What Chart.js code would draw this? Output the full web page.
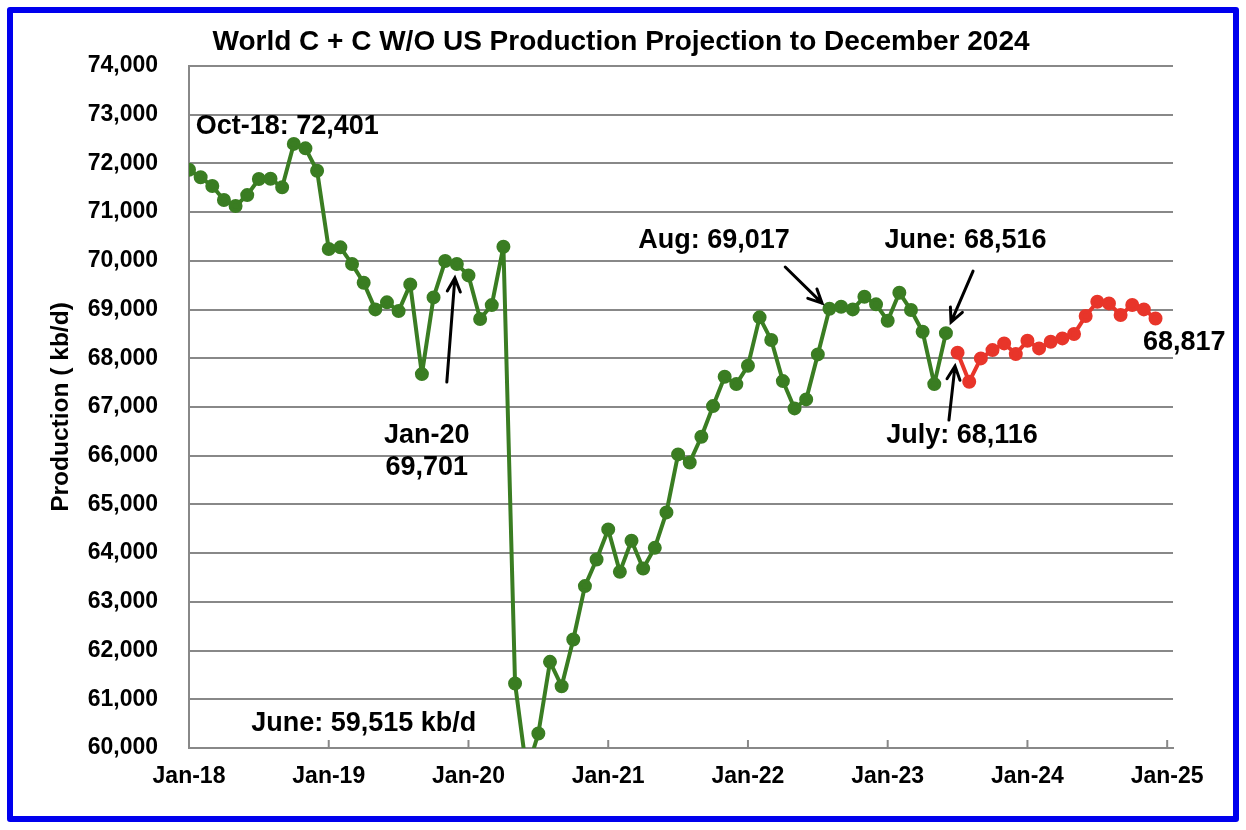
<!DOCTYPE html>
<html lang="en">
<head>
  <meta charset="UTF-8" />
  <title>World C + C W/O US Production Projection to December 2024</title>
  <script src="https://cdn.jsdelivr.net/npm/chart.js"></script>
  <style>
    html, body {
      margin: 0;
      padding: 0;
      background: #fff;
      overflow: hidden;
    }
    #wrap {
      width: 1246px;
      height: 830px;
    }
  </style>
</head>
<body>

<div id="wrap">
  <canvas id="myChart" width="1246" height="830"></canvas>
</div>

<script>
  // months counted from Jan-18 (0) ; ticks every January
  const yearTicks = [0, 12, 24, 36, 48, 60, 72, 84];
  const yearLabels = ['Jan-18', 'Jan-19', 'Jan-20', 'Jan-21', 'Jan-22', 'Jan-23', 'Jan-24', 'Jan-25'];

  // Jan-18 .. Jun-23 (kb/d)
  const actual = [
    71870, 71715, 71536, 71248, 71125, 71350, 71680, 71686, 71509, 72401, 72310, 71850,
    70242, 70277, 69934, 69550, 69004, 69148, 68969, 69517, 67675, 69250, 69996, 69934,
    69701, 68805, 69092, 70290, 61325, 59515, 60298, 61768, 61269, 62228, 63323, 63870,
    64487, 63616, 64253, 63686, 64109, 64836, 66027, 65862, 66389, 67018, 67620, 67470,
    67846, 68840, 68374, 67532, 66971, 67156, 68080, 69017, 69058, 69004, 69264, 69107,
    68771, 69346, 68990, 68544, 67470, 68516
  ];

  // Jul-23 .. Dec-24 projection (kb/d)
  const projected = [
    68116, 67519, 67998, 68168, 68306, 68086,
    68360, 68203, 68339, 68408, 68497, 68867, 69161, 69127, 68888, 69093, 69004, 68817
  ];

  const yMin = 60000, yMax = 74000, yStep = 1000;

  // call-outs, placed in data units
  const notes = [
    { text: 'Oct-18: 72,401',    x: 0.58,  y: 72747, align: 'left' },
    { text: 'Jan-20',            x: 20.42, y: 66423 },
    { text: '69,701',            x: 20.42, y: 65766 },
    { text: 'June: 59,515 kb/d', x: 15.0,  y: 60510 },
    { text: 'Aug: 69,017',       x: 45.08, y: 70407 },
    { text: 'June: 68,516',      x: 66.68, y: 70427 },
    { text: 'July: 68,116',      x: 66.38, y: 66423 },
    { text: '68,817',            x: 85.46, y: 68333 }
  ];
  const arrows = [
    { from: [22.14, 67511], to: [22.83, 69647] },
    { from: [51.2, 69873],  to: [54.36, 69133] },
    { from: [67.33, 69791], to: [65.44, 68743] },
    { from: [65.26, 66731], to: [65.78, 67840] }
  ];

  const FONT = 'Arial, "Liberation Sans", sans-serif';

  const frameAndNotes = {
    id: 'frameAndNotes',
    beforeDraw(chart) {
      const c = chart.ctx;
      c.save();
      c.fillStyle = '#fff';
      c.fillRect(0, 0, chart.width, chart.height);
      c.restore();
    },
    afterDraw(chart) {
      const c = chart.ctx;
      const xs = chart.scales.x, ys = chart.scales.y;
      const area = chart.chartArea;
      c.save();

      // inward tick marks on the date axis
      c.strokeStyle = '#888';
      c.lineWidth = 2;
      yearTicks.forEach(t => {
        const px = xs.getPixelForValue(t);
        c.beginPath();
        c.moveTo(px, area.bottom);
        c.lineTo(px, area.bottom - 8);
        c.stroke();
      });

      // title
      c.fillStyle = '#000';
      c.font = 'bold 28px ' + FONT;
      c.textAlign = 'center';
      c.textBaseline = 'middle';
      c.fillText('World C + C W/O US Production Projection to December 2024', 621, 42);

      // labels
      c.font = 'bold 27px ' + FONT;
      notes.forEach(n => {
        c.textAlign = n.align || 'center';
        c.fillText(n.text, xs.getPixelForValue(n.x), ys.getPixelForValue(n.y));
      });

      // arrows
      c.strokeStyle = '#000';
      c.lineWidth = 3;
      c.lineCap = 'round';
      arrows.forEach(a => {
        const x1 = xs.getPixelForValue(a.from[0]), y1 = ys.getPixelForValue(a.from[1]);
        const x2 = xs.getPixelForValue(a.to[0]), y2 = ys.getPixelForValue(a.to[1]);
        const ang = Math.atan2(y2 - y1, x2 - x1);
        const len = 15, spread = 0.45;
        c.beginPath();
        c.moveTo(x1, y1);
        c.lineTo(x2, y2);
        c.moveTo(x2 - len * Math.cos(ang - spread), y2 - len * Math.sin(ang - spread));
        c.lineTo(x2, y2);
        c.lineTo(x2 - len * Math.cos(ang + spread), y2 - len * Math.sin(ang + spread));
        c.stroke();
      });

      // blue frame
      c.strokeStyle = '#0000ee';
      c.lineWidth = 6;
      c.lineJoin = 'round';
      c.strokeRect(10, 10, 1226, 809);
      c.restore();
    }
  };

  const ctx = document.getElementById('myChart').getContext('2d');

  const chart = new Chart(ctx, {
    type: 'line',
    data: {
      datasets: [
        {
          label: 'World C + C W/O US',
          data: actual.map((v, i) => ({ x: i, y: v })),
          borderColor: '#3a7d22',
          backgroundColor: '#3a7d22',
          borderWidth: 4,
          borderJoinStyle: 'round',
          pointRadius: 5,
          pointHoverRadius: 5,
          tension: 0,
          clip: 0
        },
        {
          label: 'Projection',
          data: projected.map((v, i) => ({ x: actual.length + i, y: v })),
          borderColor: '#e8352a',
          backgroundColor: '#e8352a',
          borderWidth: 4,
          borderJoinStyle: 'round',
          pointRadius: 5,
          pointHoverRadius: 5,
          tension: 0,
          clip: 0
        }
      ]
    },
    options: {
      responsive: false,
      animation: false,
      devicePixelRatio: 1,
      layout: {
        padding: { left: 0, top: 66, right: 73, bottom: 0 }
      },
      plugins: {
        legend: { display: false },
        tooltip: { enabled: false },
        title: { display: false }
      },
      scales: {
        x: {
          type: 'linear',
          min: 0,
          max: 84.5,
          afterFit: s => { s.height = 82; },
          afterBuildTicks: s => { s.ticks = yearTicks.map(v => ({ value: v })); },
          ticks: {
            autoSkip: false,
            maxRotation: 0,
            padding: 15,
            color: '#000',
            font: { family: FONT, size: 23, weight: 'bold' },
            callback: v => yearLabels[yearTicks.indexOf(v)]
          },
          grid: { display: true, drawOnChartArea: false, drawTicks: false },
          border: { display: true, color: '#888', width: 2 }
        },
        y: {
          min: yMin,
          max: yMax,
          afterFit: s => { s.width = 189; },
          ticks: {
            stepSize: yStep,
            padding: 31,
            color: '#000',
            font: { family: FONT, size: 23, weight: 'bold' },
            callback: v => v.toLocaleString('en-US')
          },
          grid: { color: '#888', lineWidth: 2, drawTicks: false },
          border: { display: true, color: '#888', width: 2 },
          title: {
            display: true,
            text: 'Production ( kb/d)',
            color: '#000',
            font: { family: FONT, size: 24.5, weight: 'bold' },
            padding: { top: 47, bottom: 0 }
          }
        }
      }
    },
    plugins: [frameAndNotes]
  });
</script>

</body>
</html>
